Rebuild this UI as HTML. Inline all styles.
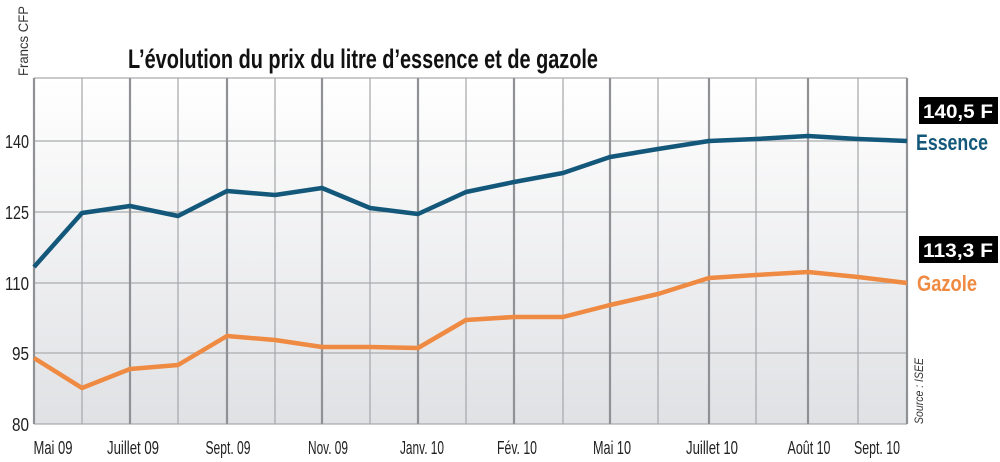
<!DOCTYPE html>
<html><head><meta charset="utf-8"><style>
body{margin:0;background:#fff;width:1000px;height:462px;overflow:hidden;font-family:"Liberation Sans",sans-serif;}
svg{display:block}
</style></head><body>
<svg width="1000" height="462" viewBox="0 0 1000 462">
<defs><linearGradient id="g" x1="0" y1="0" x2="0" y2="1">
<stop offset="0" stop-color="#ffffff"/><stop offset="1" stop-color="#e0e1e4"/></linearGradient></defs>
<rect x="34" y="78" width="873" height="346" fill="url(#g)"/>
<g stroke="#a9abae" stroke-width="1.2">
<line x1="34" y1="141" x2="907" y2="141"/><line x1="34" y1="212" x2="907" y2="212"/>
<line x1="34" y1="283" x2="907" y2="283"/><line x1="34" y1="353" x2="907" y2="353"/>
<line x1="34" y1="424" x2="907" y2="424"/><line x1="34" y1="78" x2="907" y2="78"/>
</g>
<g stroke="#a4a6a9" stroke-width="1.2">
<line x1="82" y1="78" x2="82" y2="424"/><line x1="178" y1="78" x2="178" y2="424"/>
<line x1="275" y1="78" x2="275" y2="424"/><line x1="370" y1="78" x2="370" y2="424"/>
<line x1="466" y1="78" x2="466" y2="424"/><line x1="563" y1="78" x2="563" y2="424"/>
<line x1="658" y1="78" x2="658" y2="424"/><line x1="756" y1="78" x2="756" y2="424"/>
<line x1="858" y1="78" x2="858" y2="424"/>
</g>
<g stroke="#8f9194" stroke-width="2.2">
<line x1="34" y1="78" x2="34" y2="424"/><line x1="130" y1="78" x2="130" y2="424"/>
<line x1="227" y1="78" x2="227" y2="424"/><line x1="322" y1="78" x2="322" y2="424"/>
<line x1="418" y1="78" x2="418" y2="424"/><line x1="514" y1="78" x2="514" y2="424"/>
<line x1="610" y1="78" x2="610" y2="424"/><line x1="709" y1="78" x2="709" y2="424"/>
<line x1="808" y1="78" x2="808" y2="424"/><line x1="907" y1="78" x2="907" y2="424"/>
</g>
<polyline fill="none" stroke="#13587a" stroke-width="4.5" stroke-linejoin="round"
points="34,267 82,213 130,206 178,216 227,191 275,195 322,188 370,208 418,214 466,192 514,182 563,173 610,157 658,149 709,141 756,139 808,136 858,139 907,141"/>
<polyline fill="none" stroke="#ef8a43" stroke-width="4.5" stroke-linejoin="round"
points="34,358 82,388 130,369 178,365 227,336 275,340 322,347 370,347 418,348 466,320 514,317 563,317 610,305 658,294 709,278 756,275 808,272 858,277 907,283"/>
<g font-size="18" fill="#222" text-anchor="end">
<text x="29" y="148" textLength="24" lengthAdjust="spacingAndGlyphs">140</text>
<text x="29" y="219" textLength="24" lengthAdjust="spacingAndGlyphs">125</text>
<text x="29" y="290" textLength="24" lengthAdjust="spacingAndGlyphs">110</text>
<text x="29" y="360" textLength="17" lengthAdjust="spacingAndGlyphs">95</text>
<text x="29" y="431" textLength="17" lengthAdjust="spacingAndGlyphs">80</text>
</g>
<g font-size="18" fill="#222" text-anchor="middle">
<text x="53" y="454" textLength="39" lengthAdjust="spacingAndGlyphs">Mai 09</text>
<text x="133" y="454" textLength="52" lengthAdjust="spacingAndGlyphs">Juillet 09</text>
<text x="228" y="454" textLength="45" lengthAdjust="spacingAndGlyphs">Sept. 09</text>
<text x="328" y="454" textLength="40" lengthAdjust="spacingAndGlyphs">Nov. 09</text>
<text x="422" y="454" textLength="44" lengthAdjust="spacingAndGlyphs">Janv. 10</text>
<text x="517" y="454" textLength="40" lengthAdjust="spacingAndGlyphs">Fév. 10</text>
<text x="612" y="454" textLength="38" lengthAdjust="spacingAndGlyphs">Mai 10</text>
<text x="712" y="454" textLength="52" lengthAdjust="spacingAndGlyphs">Juillet 10</text>
<text x="809" y="454" textLength="43" lengthAdjust="spacingAndGlyphs">Août 10</text>
<text x="877" y="454" textLength="46" lengthAdjust="spacingAndGlyphs">Sept. 10</text>
</g>
<text transform="translate(28,76) rotate(-90)" font-size="14" fill="#333" textLength="70" lengthAdjust="spacingAndGlyphs">Francs CFP</text>
<text transform="translate(923,424) rotate(-90)" font-size="12" font-style="italic" fill="#333" textLength="66" lengthAdjust="spacingAndGlyphs">Source : ISEE</text>
<text x="128" y="68" font-size="27" font-weight="bold" fill="#111" textLength="470" lengthAdjust="spacingAndGlyphs">L’évolution du prix du litre d’essence et de gazole</text>
<rect x="919" y="97" width="79" height="27" fill="#000"/>
<text x="958" y="118" font-size="19" font-weight="bold" fill="#fff" text-anchor="middle" textLength="70" lengthAdjust="spacingAndGlyphs">140,5 F</text>
<text x="916" y="150" font-size="22" font-weight="bold" fill="#13587a" textLength="72" lengthAdjust="spacingAndGlyphs">Essence</text>
<rect x="919" y="236" width="79" height="27" fill="#000"/>
<text x="958" y="257" font-size="19" font-weight="bold" fill="#fff" text-anchor="middle" textLength="70" lengthAdjust="spacingAndGlyphs">113,3 F</text>
<text x="917" y="291" font-size="22" font-weight="bold" fill="#ef8a43" textLength="60" lengthAdjust="spacingAndGlyphs">Gazole</text>
</svg>
</body></html>
